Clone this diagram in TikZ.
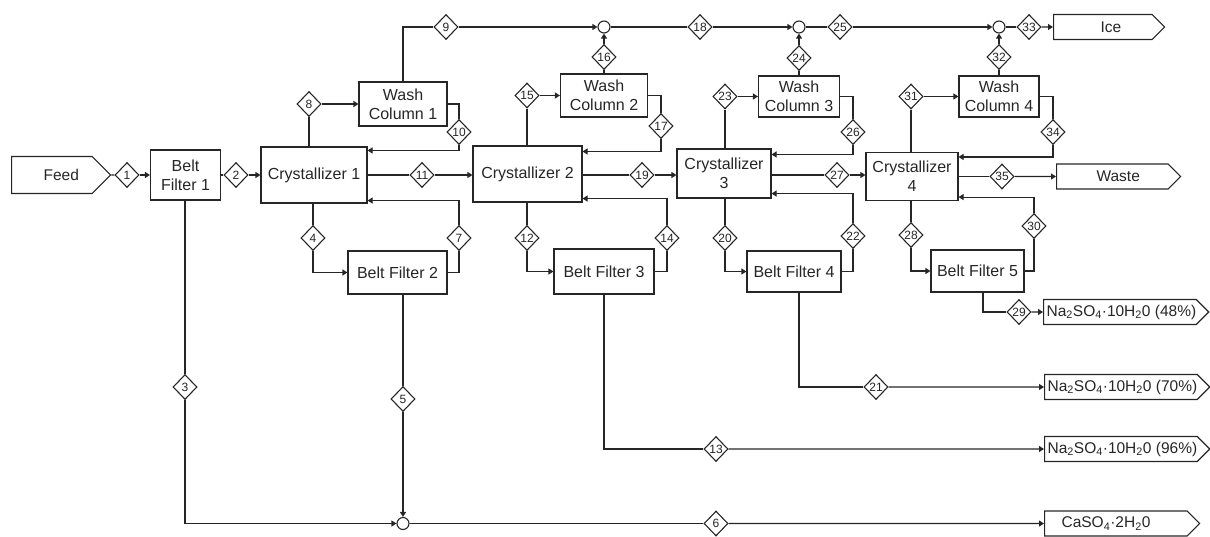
\documentclass[tikz,border=0pt]{standalone}
\usepackage{fontspec}
\setmainfont{Liberation Sans}
\usetikzlibrary{arrows.meta,shapes.geometric,shapes.symbols}
\colorlet{lineink}{black!85}
\newcommand\unitfont{\fontsize{16}{19}\selectfont}
\newcommand\productfont{\fontsize{15.5}{18}\selectfont}
\newcommand\streamfont{\fontsize{12}{12}\selectfont}
\newcommand\hydrate[1]{Na\textsubscript{2}SO\textsubscript{4}·10H\textsubscript{2}0 (#1)}

\begin{document}
\begin{tikzpicture}[x=1pt,y=-1pt,line width=1.1pt,color=lineink,
  unit/.style={draw,align=center,font=\unitfont,inner sep=1pt},
  stream/.style={diamond,draw,fill=white,inner sep=0pt,minimum width=24pt,minimum height=25pt,font=\streamfont},
  mixer/.style={circle,draw,fill=white,inner sep=0pt,minimum size=12pt},
  product/.style={signal,signal to=east,draw,anchor=west,font=\productfont,inner xsep=0pt,inner ysep=2pt,minimum height=25pt},
  flow/.style={-{Triangle[length=5pt,width=6pt]}}]
\useasboundingbox (0,0) rectangle (1210,536);

\node[unit,minimum width=70pt,minimum height=50pt] (bf1) at (185.5,175) {Belt\\Filter 1};
\node[unit,minimum width=106pt,minimum height=56pt] (cr1) at (314,175) {Crystallizer 1};
\node[unit,minimum width=88pt,minimum height=44pt] (wc1) at (403,104) {Wash\\Column 1};
\node[unit,minimum width=99pt,minimum height=43pt] (bf2) at (397.5,272.5) {Belt Filter 2};
\node[unit,minimum width=109pt,minimum height=56pt] (cr2) at (527.5,174) {Crystallizer 2};
\node[unit,minimum width=87pt,minimum height=43pt] (wc2) at (604,95.5) {Wash\\Column 2};
\node[unit,minimum width=100pt,minimum height=45pt] (bf3) at (604,271.5) {Belt Filter 3};
\node[unit,minimum width=94pt,minimum height=49pt] (cr3) at (724,173.5) {Crystallizer\\3};
\node[unit,minimum width=81pt,minimum height=41pt] (wc3) at (799,96.5) {Wash\\Column 3};
\node[unit,minimum width=94pt,minimum height=41pt] (bf4) at (794,271.5) {Belt Filter 4};
\node[unit,minimum width=92pt,minimum height=48pt] (cr4) at (912,176.5) {Crystallizer\\4};
\node[unit,minimum width=80pt,minimum height=41pt] (wc4) at (999,96.5) {Wash\\Column 4};
\node[unit,minimum width=93pt,minimum height=42pt] (bf5) at (977.5,271) {Belt Filter 5};

\node[mixer] (m1) at (403,523.5) {};
\node[mixer] (m2) at (604,27) {};
\node[mixer] (m3) at (799,27) {};
\node[mixer] (m4) at (999,27) {};

\node[product,minimum height=37pt,text width=80.5pt,align=left] (feed) at (11,175) {\hspace*{32pt}Feed};
\node[product,text width=98.5pt,align=left] (ice) at (1053,27) {\hspace*{47pt}Ice};
\node[product,text width=111.5pt,align=left] (waste) at (1056,176.5) {\hspace*{40pt}Waste};
\node[product] (p48) at (1043,312) {\hspace*{3pt}\hydrate{48\%}};
\node[product] (p70) at (1044,387) {\hspace*{3pt}\hydrate{70\%}};
\node[product] (p96) at (1044,449) {\hspace*{3pt}\hydrate{96\%}};
\node[product,text width=142.5pt,align=left] (caso4) at (1044,523.5) {\hspace*{17pt}CaSO\textsubscript{4}·2H\textsubscript{2}0};

\node[stream] (s1) at (127,175) {1};
\node[stream] (s2) at (236,175) {2};
\node[stream] (s3) at (185,387) {3};
\node[stream] (s4) at (313,238) {4};
\node[stream] (s5) at (403,399) {5};
\node[stream] (s6) at (716,523.5) {6};
\node[stream] (s7) at (459,238) {7};
\node[stream] (s8) at (309,104) {8};
\node[stream] (s9) at (446,27) {9};
\node[stream] (s10) at (459,132) {10};
\node[stream] (s11) at (422,175) {11};
\node[stream] (s12) at (527,238) {12};
\node[stream] (s13) at (716,449) {13};
\node[stream] (s14) at (667,238) {14};
\node[stream] (s15) at (527,95.5) {15};
\node[stream] (s16) at (604,57) {16};
\node[stream] (s17) at (661,126) {17};
\node[stream] (s18) at (700,27) {18};
\node[stream] (s19) at (642,175) {19};
\node[stream] (s20) at (725,238) {20};
\node[stream] (s21) at (876,387) {21};
\node[stream] (s22) at (853,236) {22};
\node[stream] (s23) at (725,96.5) {23};
\node[stream] (s24) at (799,58) {24};
\node[stream] (s25) at (840,27) {25};
\node[stream] (s26) at (853,132) {26};
\node[stream] (s27) at (837,175) {27};
\node[stream] (s28) at (911,235) {28};
\node[stream] (s29) at (1019,312) {29};
\node[stream] (s30) at (1034,226) {30};
\node[stream] (s31) at (911,96.5) {31};
\node[stream] (s32) at (999,57) {32};
\node[stream] (s33) at (1029,27) {33};
\node[stream] (s34) at (1053,132) {34};
\node[stream] (s35) at (1002,176.5) {35};

\draw (feed) -- (s1);
\draw[flow] (s1) -- (bf1);
\draw (bf1) -- (s2);
\draw[flow] (s2) -- (cr1);
\draw (s3 |- bf1.south) -- (s3);
\draw[flow] (s3) |- (m1);
\draw (s4 |- cr1.south) -- (s4);
\draw[flow] (s4) |- (bf2);
\draw (s5 |- bf2.south) -- (s5);
\draw[flow] (s5) -- (m1);
\draw (m1) -- (s6);
\draw[flow] (s6) -- (caso4);
\draw (bf2) -| (s7);
\draw[flow] (s7) |- ([yshift=3pt]cr1.south east);
\draw (s8 |- cr1.north) -- (s8);
\draw[flow] (s8) -- (s8 -| wc1.west);
\draw (wc1.north) |- (s9);
\draw[flow] (s9) -- (m2);
\draw (wc1) -| (s10);
\draw[flow] (s10) |- ([yshift=-4pt]cr1.north east);
\draw (cr1) -- (s11);
\draw[flow] (s11) -- (s11 -| cr2.west);
\draw (s12 |- cr2.south) -- (s12);
\draw[flow] (s12) |- (bf3);
\draw (bf3.south) |- (s13);
\draw[flow] (s13) -- (p96);
\draw (bf3) -| (s14);
\draw[flow] (s14) |- ([yshift=4pt]cr2.south east);
\draw (s15 |- cr2.north) -- (s15);
\draw[flow] (s15) -- (s15 -| wc2.west);
\draw (wc2) -- (s16);
\draw[flow] (s16) -- (m2);
\draw (wc2) -| (s17);
\draw[flow] (s17) |- ([yshift=-6pt]cr2.north east);
\draw (m2) -- (s18);
\draw[flow] (s18) -- (m3);
\draw (cr2.east |- s19) -- (s19);
\draw[flow] (s19) -- (s19 -| cr3.west);
\draw (s20 |- cr3.south) -- (s20);
\draw[flow] (s20) |- (bf4);
\draw ([xshift=5pt]bf4.south) |- (s21);
\draw[flow] (s21) -- (p70);
\draw (bf4) -| (s22);
\draw[flow] (s22) |- ([yshift=5pt]cr3.south east);
\draw (s23 |- cr3.north) -- (s23);
\draw[flow] (s23) -- (s23 -| wc3.west);
\draw (wc3) -- (s24);
\draw[flow] (s24) -- (m3);
\draw (m3) -- (s25);
\draw[flow] (s25) -- (m4);
\draw (wc3) -| (s26);
\draw[flow] (s26) |- ([yshift=-6pt]cr3.north east);
\draw (cr3.east |- s27) -- (s27);
\draw[flow] (s27) -- (s27 -| cr4.west);
\draw (s28 |- cr4.south) -- (s28);
\draw[flow] (s28) |- (bf5);
\draw ([xshift=5.5pt]bf5.south) |- (s29);
\draw[flow] (s29) -- (p48);
\draw (bf5) -| (s30);
\draw[flow] (s30) |- ([yshift=4pt]cr4.south east);
\draw (s31 |- cr4.north) -- (s31);
\draw[flow] (s31) -- (s31 -| wc4.west);
\draw (wc4) -- (s32);
\draw[flow] (s32) -- (m4);
\draw (m4) -- (s33);
\draw[flow] (s33) -- (ice);
\draw (wc4) -| (s34);
\draw[flow] (s34) |- ([yshift=-5pt]cr4.north east);
\draw (cr4.east |- s35) -- (s35);
\draw[flow] (s35) -- (waste);
\end{tikzpicture}
\end{document}
